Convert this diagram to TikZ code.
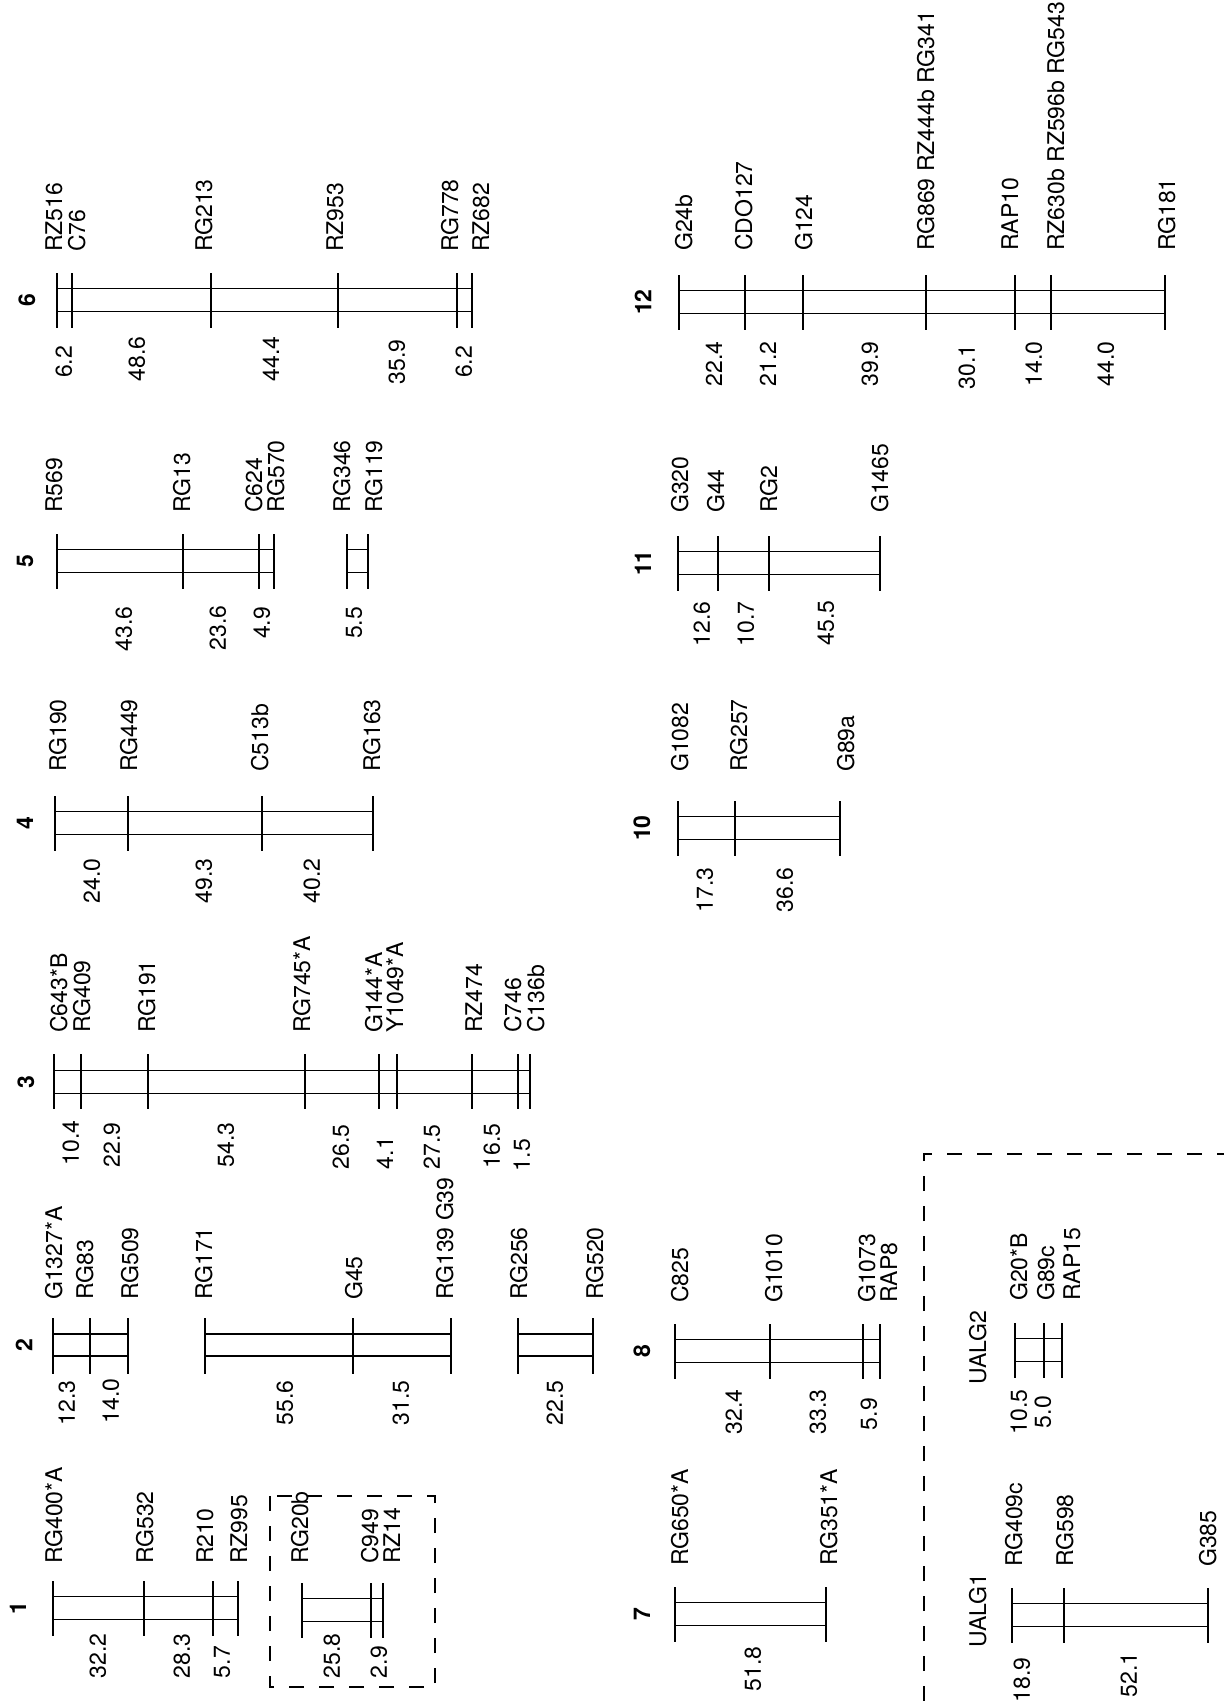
\documentclass[tikz,border=0pt]{standalone}
\usepackage{fontspec}
\setmainfont{TeX Gyre Heros}
\usepackage{tikz}
\usetikzlibrary{positioning}

\begin{document}
\begin{tikzpicture}[x=1pt, y=-1pt,
    font=\fontsize{23}{27}\selectfont,
    tick/.style={line width=2.6pt},
    bar/.style={line width=1.2pt},
    mk/.style={rotate=90, anchor=base west, inner sep=0pt},
    dist/.style={rotate=90, inner sep=0pt},
    chrno/.style={rotate=90, inner sep=0pt, font=\fontsize{23}{27}\selectfont\bfseries},
    dbox/.style={line width=1.8pt, dash pattern=on 15pt off 15pt}
]
\useasboundingbox (0,0) rectangle (1228,1701);

% chromosome 6
\node[chrno] (n6) at (27,300) {6};
\foreach \x in {57,72,211,338,457,472}
    \draw[tick] (\x,273) -- (\x,328);
\draw[bar] (57,288.5) -- (472,288.5) (57,311.5) -- (472,311.5);
\foreach \x/\t [count=\i] in {62/RZ516, 85/C76, 212/RG213, 343/RZ953, 458/RG778, 489/RZ682}
    \node[mk] (c6m\i) at (\x,252) {\t};
\foreach \x/\y/\d [count=\i] in {64/362/6.2, 137/359/48.6, 271/359/44.4, 397/362/35.9, 464/362/6.2}
    \node[dist] (c6d\i) at (\x,\y) {\d};

% chromosome 5
\node[chrno] (n5) at (25,561) {5};
\foreach \x in {57,183,259,274,347,368}
    \draw[tick] (\x,534) -- (\x,589);
\draw[bar] (57,549.5) -- (274,549.5) (57,572.5) -- (274,572.5);
\draw[bar] (347,549.5) -- (368,549.5) (347,572.5) -- (368,572.5);
\foreach \x/\t [count=\i] in {62/R569, 190/RG13, 262/C624, 284/RG570, 350/RG346, 382/RG119}
    \node[mk] (c5m\i) at (\x,513) {\t};
\foreach \x/\y/\d [count=\i] in {124/629/43.6, 218/628/23.6, 262/623/4.9, 354/623/5.5}
    \node[dist] (c5d\i) at (\x,\y) {\d};

% chromosome 4
\node[chrno] (n4) at (25,823) {4};
\foreach \x in {55,128,262,373}
    \draw[tick] (\x,796) -- (\x,851);
\draw[bar] (55,811.5) -- (373,811.5) (55,834.5) -- (373,834.5);
\foreach \x/\t [count=\i] in {66/RG190, 137/RG449, 268/C513b, 380/RG163}
    \node[mk] (c4m\i) at (\x,772) {\t};
\foreach \x/\y/\d [count=\i] in {92/881/24.0, 204/881/49.3, 312/881/40.2}
    \node[dist] (c4d\i) at (\x,\y) {\d};

% chromosome 3
\node[chrno] (n3) at (26,1082) {3};
\foreach \x in {54,81,148,305,379,397,472,518,530}
    \draw[tick] (\x,1054) -- (\x,1109);
\draw[bar] (54,1070.5) -- (530,1070.5) (54,1093.5) -- (530,1093.5);
\foreach \x/\t [count=\i] in {67/C643*B, 90/RG409, 155/RG191, 310/RG745*A, 382/G144*A, 403/Y1049*A, 482/RZ474, 521/C746, 544/C136b}
    \node[mk] (c3m\i) at (\x,1033) {\t};
\foreach \x/\y/\d [count=\i] in {71/1143/10.4, 112/1145/22.9, 226/1145/54.3, 341/1147/26.5, 385/1153/4.1, 432/1147/27.5, 492/1146/16.5, 522/1155/1.5}
    \node[dist] (c3d\i) at (\x,\y) {\d};

% chromosome 2
\node[chrno] (n2) at (24,1345) {2};
\foreach \x in {53,90,128,205,353,451,518,593}
    \draw[tick] (\x,1318) -- (\x,1374);
\draw[bar] (53,1334) -- (128,1334) (53,1356) -- (128,1356);
\draw[bar] (205,1334) -- (451,1334) (205,1356) -- (451,1356);
\draw[bar] (518,1334) -- (593,1334) (518,1356) -- (593,1356);
\foreach \x/\t [count=\i] in {62/G1327*A, 93/RG83, 138/RG509, 212/RG171, 362/G45, 453/RG139 G39, 527/RG256, 603/RG520}
    \node[mk] (c2m\i) at (\x,1300) {\t};
\foreach \x/\y/\d [count=\i] in {67/1403/12.3, 111/1401/14.0, 285/1403/55.6, 401/1403/31.5, 555/1403/22.5}
    \node[dist] (c2d\i) at (\x,\y) {\d};

% chromosome 1
\node[chrno] (n1) at (18,1608) {1};
\foreach \x in {53,144,213,238}
    \draw[tick] (\x,1581) -- (\x,1636);
\draw[bar] (53,1596.5) -- (238,1596.5) (53,1619.5) -- (238,1619.5);
\foreach \x in {302,371,383}
    \draw[tick] (\x,1583) -- (\x,1638);
\draw[bar] (302,1598.5) -- (383,1598.5) (302,1621.5) -- (383,1621.5);
\draw[dbox] (270,1496) rectangle (435,1687);
\foreach \x/\t [count=\i] in {62/RG400*A, 153/RG532, 213/R210, 247/RZ995, 308/RG20b, 378/C949, 400/RZ14}
    \node[mk] (c1m\i) at (\x,1564) {\t};
\foreach \x/\y/\d [count=\i] in {98/1656/32.2, 182/1656/28.3, 222/1662/5.7, 332/1656/25.8, 379/1662/2.9}
    \node[dist] (c1d\i) at (\x,\y) {\d};

% chromosome 12
\node[chrno] (n12) at (643,302) {12};
\foreach \x in {679,745,803,926,1015,1051,1165}
    \draw[tick] (\x,275) -- (\x,330);
\draw[bar] (679,290.5) -- (1165,290.5) (679,313.5) -- (1165,313.5);
\foreach \x/\t [count=\i] in {692/G24b, 752/CDO127, 812/G124, 934/RG869 RZ444b RG341, 1018/RAP10, 1064/RZ630b RZ596b RG543, 1175/RG181}
    \node[mk] (c12m\i) at (\x,251) {\t};
\foreach \x/\y/\d [count=\i] in {714/364/22.4, 768/364/21.2, 870/364/39.9, 967/367/30.1, 1034/364/14.0, 1106/364/44.0}
    \node[dist] (c12d\i) at (\x,\y) {\d};

% chromosome 11
\node[chrno] (n11) at (643,563) {11};
\foreach \x in {678,718,769,880}
    \draw[tick] (\x,536) -- (\x,591);
\draw[bar] (678,551.5) -- (880,551.5) (678,574.5) -- (880,574.5);
\foreach \x/\t [count=\i] in {688/G320, 724/G44, 777/RG2, 888/G1465}
    \node[mk] (c11m\i) at (\x,513) {\t};
\foreach \x/\y/\d [count=\i] in {702/624/12.6, 746/624/10.7, 826/623/45.5}
    \node[dist] (c11d\i) at (\x,\y) {\d};

% chromosome 10
\node[chrno] (n10) at (642,828) {10};
\foreach \x in {678,735,840}
    \draw[tick] (\x,801) -- (\x,856);
\draw[bar] (678,816.5) -- (840,816.5) (678,839.5) -- (840,839.5);
\foreach \x/\t [count=\i] in {688/G1082, 747/RG257, 854/G89a}
    \node[mk] (c10m\i) at (\x,772) {\t};
\foreach \x/\y/\d [count=\i] in {705/890/17.3, 785/890/36.6}
    \node[dist] (c10d\i) at (\x,\y) {\d};

% chromosome 8
\node[chrno] (n8) at (642,1351) {8};
\foreach \x in {675,770,863,880}
    \draw[tick] (\x,1324) -- (\x,1379);
\draw[bar] (675,1339.5) -- (880,1339.5) (675,1362.5) -- (880,1362.5);
\foreach \x/\t [count=\i] in {688/C825, 782/G1010, 875/G1073, 897/RAP8}
    \node[mk] (c8m\i) at (\x,1303) {\t};
\foreach \x/\y/\d [count=\i] in {734/1412/32.4, 818/1412/33.3, 869/1414/5.9}
    \node[dist] (c8d\i) at (\x,\y) {\d};

% chromosome 7
\node[chrno] (n7) at (642,1614) {7};
\foreach \x in {675,826}
    \draw[tick] (\x,1587) -- (\x,1642);
\draw[bar] (675,1602.5) -- (826,1602.5) (675,1625.5) -- (826,1625.5);
\foreach \x/\t [count=\i] in {688/RG650*A, 837/RG351*A}
    \node[mk] (c7m\i) at (\x,1566) {\t};
\node[dist] (c7d1) at (753,1669) {51.8};

% unassigned linkage groups
\draw[dbox] (924,1701) -- (924,1154) -- (1224,1154);

\node[mk] (u2) at (986,1385) {UALG2};
\foreach \x in {1015,1044,1062}
    \draw[tick] (\x,1323) -- (\x,1378);
\draw[bar] (1015,1338.5) -- (1062,1338.5) (1015,1361.5) -- (1062,1361.5);
\foreach \x/\t [count=\i] in {1027/G20*B, 1054/G89c, 1080/RAP15}
    \node[mk] (u2m\i) at (\x,1301) {\t};
\foreach \x/\y/\d [count=\i] in {1019/1412/10.5, 1043/1412/5.0}
    \node[dist] (u2d\i) at (\x,\y) {\d};

\node[mk] (u1) at (986,1648) {UALG1};
\foreach \x in {1012,1064,1208}
    \draw[tick] (\x,1588) -- (\x,1643);
\draw[bar] (1012,1603.5) -- (1208,1603.5) (1012,1626.5) -- (1208,1626.5);
\foreach \x/\t [count=\i] in {1022/RG409c, 1073/RG598, 1216/G385}
    \node[mk] (u1m\i) at (\x,1567) {\t};
\foreach \x/\y/\d [count=\i] in {1022/1680/18.9, 1129/1675/52.1}
    \node[dist] (u1d\i) at (\x,\y) {\d};
\end{tikzpicture}
\end{document}
